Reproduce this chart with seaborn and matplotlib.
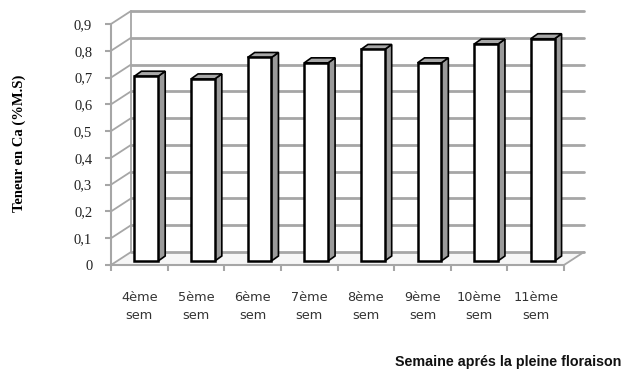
import matplotlib
matplotlib.use("Agg")
import matplotlib.pyplot as plt
import pandas as pd
import seaborn as sns
from matplotlib.lines import Line2D
from matplotlib.patches import Polygon
from matplotlib.transforms import IdentityTransform, ScaledTranslation

# Calcium content per week after full bloom
semaines = ["4ème\nsem", "5ème\nsem", "6ème\nsem", "7ème\nsem",
            "8ème\nsem", "9ème\nsem", "10ème\nsem", "11ème\nsem"]
teneur_ca = [0.69, 0.68, 0.76, 0.74, 0.79, 0.74, 0.81, 0.83]
y_ticks = [0, 0.1, 0.2, 0.3, 0.4, 0.5, 0.6, 0.7, 0.8, 0.9]
y_tick_labels = ["0", "0,1", "0,2", "0,3", "0,4", "0,5", "0,6", "0,7", "0,8", "0,9"]

sns.set_theme(style="white")
plt.rcParams["font.family"] = ["Liberation Sans", "DejaVu Sans"]

W, H, DPI = 621, 369, 100
fig = plt.figure(figsize=(W / DPI, H / DPI), dpi=DPI)
ax = fig.add_axes([111 / W, 104 / H, 453 / W, 241 / H])

df = pd.DataFrame({"semaine": semaines, "teneur": teneur_ca})
sns.barplot(data=df, x="semaine", y="teneur", color="white", saturation=1,
            edgecolor="black", linewidth=1.8, width=0.42, ax=ax, zorder=5)

ax.set_xlim(-0.5, len(semaines) - 0.5)
ax.set_ylim(0, 0.9)
ax.set_autoscale_on(False)
ax.set_facecolor("none")
ax.set_xlabel("")
ax.set_ylabel("")

grid_col = "#a6a6a6"
wall_dx, wall_dy = 20, 13      # depth of the back wall, in pixels
bar_dx, bar_dy = 7, 4          # position of the bar front inside the depth
dep_dx, dep_dy = 7, 5          # depth of each bar

def px(x, y):
    return ax.transData.transform((x, y))

ident = IdentityTransform()
x0, x1 = -0.5, len(semaines) - 0.5

# back wall gridlines and side wall diagonals
for yv in y_ticks:
    a = px(x0, yv)
    b = px(x1, yv)
    ax.add_line(Line2D([a[0] + wall_dx, b[0] + wall_dx],
                       [a[1] + wall_dy, b[1] + wall_dy],
                       color=grid_col, lw=2.0, transform=ident,
                       clip_on=False, zorder=1))
    ax.add_line(Line2D([a[0], a[0] + wall_dx], [a[1], a[1] + wall_dy],
                       color=grid_col, lw=1.3, transform=ident,
                       clip_on=False, zorder=1))

# back vertical edge of the left wall
a = px(x0, 0)
b = px(x0, 0.9)
ax.add_line(Line2D([a[0] + wall_dx, b[0] + wall_dx],
                   [a[1] + wall_dy, b[1] + wall_dy],
                   color=grid_col, lw=1.3, transform=ident,
                   clip_on=False, zorder=1))

# floor
fa, fb = px(x0, 0), px(x1, 0)
floor = Polygon([fa, fb, (fb[0] + wall_dx, fb[1] + wall_dy),
                 (fa[0] + wall_dx, fa[1] + wall_dy)], closed=True,
                facecolor="#f6f6f6", edgecolor="none", transform=ident,
                clip_on=False, zorder=0.5)
ax.add_patch(floor)
ax.add_line(Line2D([fb[0], fb[0] + wall_dx], [fb[1], fb[1] + wall_dy],
                   color=grid_col, lw=1.3, transform=ident,
                   clip_on=False, zorder=1))

# bars: move the front faces back into the depth, add side and top faces
shift = ScaledTranslation(bar_dx / DPI, bar_dy / DPI, fig.dpi_scale_trans)
for p in list(ax.patches):
    if p is floor:
        continue
    bx, bw, bh = p.get_x(), p.get_width(), p.get_height()
    p.set_transform(ax.transData + shift)
    p.set_clip_on(False)
    bl = px(bx, bh) + (bar_dx, bar_dy)
    br = px(bx + bw, bh) + (bar_dx, bar_dy)
    r0 = px(bx + bw, 0) + (bar_dx, bar_dy)
    side = Polygon([r0, br, br + (dep_dx, dep_dy), r0 + (dep_dx, dep_dy)],
                   closed=True, facecolor="#9a9a9a", edgecolor="black",
                   lw=1.2, transform=ident, clip_on=False, zorder=4)
    top = Polygon([bl, br, br + (dep_dx, dep_dy), bl + (dep_dx, dep_dy)],
                  closed=True, facecolor="#a8a8a8", edgecolor="black",
                  lw=1.2, transform=ident, clip_on=False, zorder=4)
    ax.add_patch(side)
    ax.add_patch(top)

# front axes
for s in ["top", "right"]:
    ax.spines[s].set_visible(False)
for s in ["left", "bottom"]:
    ax.spines[s].set_color(grid_col)
    ax.spines[s].set_linewidth(1.5)
    ax.spines[s].set_zorder(2)

ax.set_yticks(y_ticks)
ax.set_yticklabels(y_tick_labels, family=["Liberation Serif", "DejaVu Serif"],
                   fontsize=10.5, color="#222222")
ax.tick_params(axis="y", which="major", direction="out", length=4.5,
               width=1.5, color=grid_col, pad=9, left=True)

ax.set_xticks(range(len(semaines)))
ax.set_xticklabels(semaines, fontsize=9.3, color="#333333", linespacing=1.45,
                   family=["DejaVu Sans"])
ax.set_xticks([i - 0.5 for i in range(len(semaines) + 1)], minor=True)
ax.tick_params(axis="x", which="major", length=0, pad=19)
ax.tick_params(axis="x", which="minor", direction="out", length=4.5,
               width=1.5, color=grid_col, bottom=True)

fig.text(19 / W, 1 - 143 / H, "Teneur en Ca (%M.S)", rotation=90,
         ha="center", va="center", fontsize=10.5, fontweight="bold",
         family=["Liberation Serif", "DejaVu Serif"], color="black")
fig.text(621 / W, 1 - 362 / H, "Semaine aprés la pleine floraison",
         ha="right", va="center", fontsize=10.3, fontweight="bold",
         color="#111111")

fig.savefig("out.png", dpi=DPI, facecolor="white")
